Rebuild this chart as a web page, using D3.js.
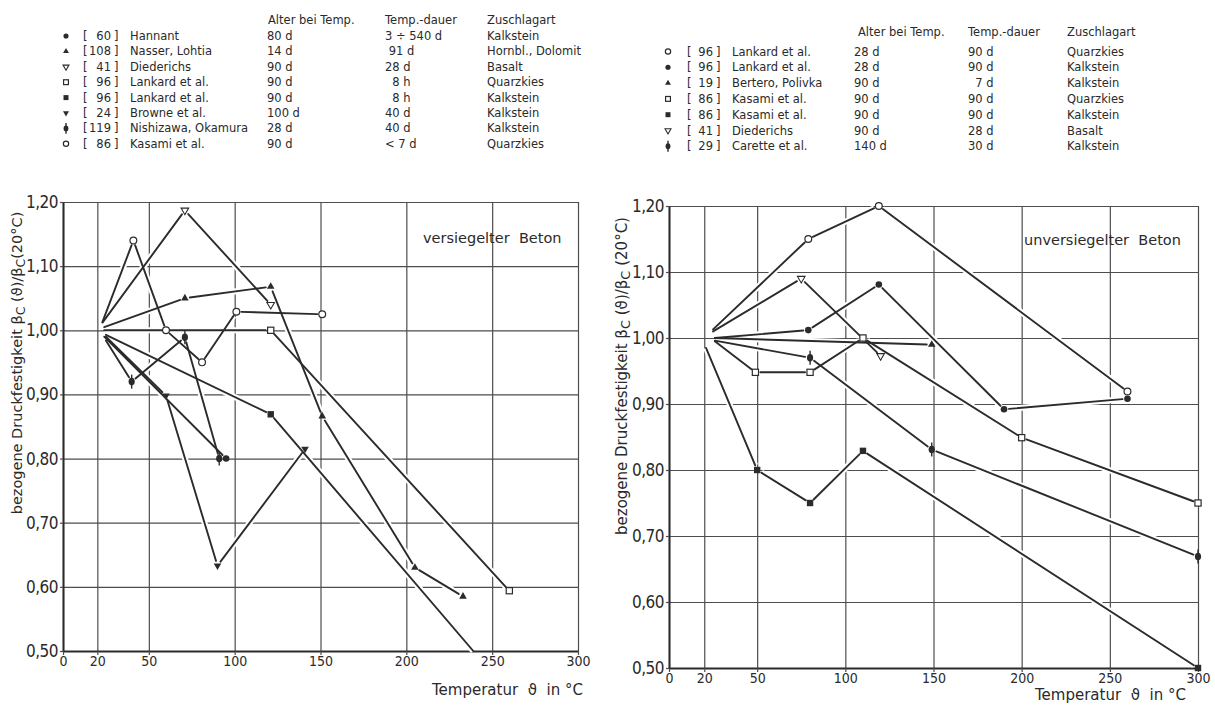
<!DOCTYPE html>
<html>
<head>
<meta charset="utf-8">
<script src="https://cdn.jsdelivr.net/npm/d3@7"></script>
<style>
  body { margin: 0; background: #ffffff; }
  svg { display: block; }
  text { fill: #2a2a2a; }
</style>
</head>
<body>
<svg id="fig" width="1215" height="709"></svg>
<script>
// ---------- legend tables ----------
const legendHeads = ["Alter bei Temp.", "Temp.-dauer", "Zuschlagart"];

const sealedSymbols    = ["dot", "tri", "triDownOpen", "squareOpen", "square", "triDown", "phi", "circleOpen"];
const sealedRefs       = ["60", "108", "41", "96", "96", "24", "119", "86"];
const sealedNames      = ["Hannant", "Nasser, Lohtia", "Diederichs", "Lankard et al.", "Lankard et al.", "Browne et al.", "Nishizawa, Okamura", "Kasami et al."];
const sealedAges       = ["80 d", "14 d", "90 d", "90 d", "90 d", "100 d", "28 d", "90 d"];
const sealedDurations  = ["3 ÷ 540 d", " 91 d", "28 d", "  8 h", "  8 h", "40 d", "40 d", "< 7 d"];
const sealedAggregates = ["Kalkstein", "Hornbl., Dolomit", "Basalt", "Quarzkies", "Kalkstein", "Kalkstein", "Kalkstein", "Quarzkies"];

const openSymbols    = ["circleOpen", "dot", "tri", "squareOpen", "square", "triDownOpen", "phi"];
const openRefs       = ["96", "96", "19", "86", "86", "41", "29"];
const openNames      = ["Lankard et al.", "Lankard et al.", "Bertero, Polivka", "Kasami et al.", "Kasami et al.", "Diederichs", "Carette et al."];
const openAges       = ["28 d", "28 d", "90 d", "90 d", "90 d", "90 d", "140 d"];
const openDurations  = ["90 d", "90 d", "  7 d", "90 d", "90 d", "28 d", "30 d"];
const openAggregates = ["Quarzkies", "Kalkstein", "Kalkstein", "Quarzkies", "Kalkstein", "Basalt", "Kalkstein"];

// ---------- axes ----------
const tempTicks = [0, 20, 50, 100, 150, 200, 250, 300];
const ratioTicks = [0.5, 0.6, 0.7, 0.8, 0.9, 1.0, 1.1, 1.2];

// ---------- measured series: [temperature °C, beta_C(T)/beta_C(20 °C)] ----------
// sealed concrete (versiegelter Beton)
const sealedHannant   = [[24, 0.99], [95, 0.80]];
const sealedNasser    = [[24, 1.005], [71, 1.05], [121, 1.068], [151, 0.866], [205, 0.63], [233, 0.585]];
const sealedDiederichs = [[23, 1.012], [71, 1.187], [121, 1.04]];
const sealedLankardQ  = [[24, 1.0], [121, 1.0], [260, 0.594]];
const sealedLankardK  = [[25, 0.993], [121, 0.869], [239, 0.50]];
const sealedBrowne    = [[25, 0.99], [60, 0.898], [90, 0.633], [141, 0.815]];
const sealedNishizawa = [[25, 0.984], [40, 0.92], [71, 0.989], [91, 0.80]];
const sealedKasami    = [[23, 1.013], [41, 1.14], [60, 1.0], [81, 0.95], [101, 1.029], [151, 1.025]];
// series whose last point is where the line leaves the grid (no symbol there)
const sealedRunsOff = ["sealedLankardK"];

// unsealed concrete (unversiegelter Beton)
const openLankardQ   = [[25, 1.013], [79, 1.15], [119, 1.20], [260, 0.919]];
const openLankardK   = [[26, 1.0], [79, 1.012], [119, 1.081], [190, 0.892], [260, 0.908]];
const openBertero    = [[26, 1.0], [149, 0.99]];
const openKasamiQ    = [[26, 0.995], [49, 0.948], [80, 0.948], [110, 1.0], [200, 0.849], [300, 0.75]];
const openKasamiK    = [[21, 0.985], [50, 0.80], [80, 0.75], [110, 0.829], [300, 0.50]];
const openDiederichs = [[25, 1.01], [75, 1.09], [120, 0.973]];
const openCarette    = [[26, 0.996], [80, 0.97], [149, 0.831], [300, 0.669]];
const openRunsOff = [];

const svg = d3.select("#fig");
const ink = "#2b2b2b";
const gridInk = "#4d4d4d";
const comma = d => d3.format(".2f")(d).replace(".", ",");

// ---------- symbols ----------
function symbol(g, type, cx, cy, k) {
  const s = g.append("g").attr("transform", `translate(${cx},${cy})`);
  const tri = (side, down) => {
    const h = side * 0.866, t = down ? -1 : 1;
    return `M0,${-t * h * 2 / 3}L${side / 2},${t * h / 3}L${-side / 2},${t * h / 3}Z`;
  };
  switch (type) {
    case "dot":
      s.append("circle").attr("r", 3.3 * k).attr("fill", ink); break;
    case "circleOpen":
      s.append("circle").attr("r", 3.4 * k).attr("fill", "#fff").attr("stroke", ink).attr("stroke-width", 1.2); break;
    case "square":
      s.append("rect").attr("x", -3.2 * k).attr("y", -3.2 * k).attr("width", 6.4 * k).attr("height", 6.4 * k).attr("fill", ink); break;
    case "squareOpen":
      s.append("rect").attr("x", -3.1 * k).attr("y", -3.1 * k).attr("width", 6.2 * k).attr("height", 6.2 * k)
        .attr("fill", "#fff").attr("stroke", ink).attr("stroke-width", 1.2); break;
    case "tri":
      s.append("path").attr("d", tri(7.6 * k, false)).attr("fill", ink); break;
    case "triDown":
      s.append("path").attr("d", tri(7.6 * k, true)).attr("fill", ink); break;
    case "triDownOpen":
      s.append("path").attr("d", tri(7.6 * k, true)).attr("fill", "#fff").attr("stroke", ink).attr("stroke-width", 1.1); break;
    case "phi":
      s.append("line").attr("y1", -7 * k).attr("y2", 7 * k).attr("stroke", ink).attr("stroke-width", 1.4);
      s.append("ellipse").attr("rx", 3.1 * k).attr("ry", 3.8 * k).attr("fill", ink); break;
  }
}

// ---------- legend ----------
function legend(cfg) {
  const g = svg.append("g").style("font-family", "'DejaVu Sans', sans-serif").style("font-size", "11.5px");
  legendHeads.forEach((h, i) => {
    g.append("text").attr("x", cfg.headX[i]).attr("y", cfg.headY).text(h);
  });
  cfg.names.forEach((name, i) => {
    const yb = cfg.rowY + i * cfg.step;
    symbol(g, cfg.symbols[i], cfg.symX, yb - 4, 0.78);
    g.append("text").attr("x", cfg.bracketX).attr("y", yb).text("[");
    g.append("text").attr("x", cfg.numEnd).attr("y", yb).attr("text-anchor", "end").text(cfg.refs[i]);
    g.append("text").attr("x", cfg.numEnd + 3).attr("y", yb).text("]");
    g.append("text").attr("x", cfg.nameX).attr("y", yb).text(name);
    g.append("text").attr("x", cfg.colX[0]).attr("y", yb).style("white-space", "pre").text(cfg.ages[i]);
    g.append("text").attr("x", cfg.colX[1]).attr("y", yb).style("white-space", "pre").text(cfg.durations[i]);
    g.append("text").attr("x", cfg.colX[2]).attr("y", yb).text(cfg.aggregates[i]);
  });
}

legend({
  symbols: sealedSymbols, refs: sealedRefs, names: sealedNames, ages: sealedAges,
  durations: sealedDurations, aggregates: sealedAggregates,
  headX: [268, 385, 487], headY: 24, rowY: 40, step: 15.4,
  symX: 66, bracketX: 83, numEnd: 111, nameX: 130, colX: [267, 385, 487]
});
legend({
  symbols: openSymbols, refs: openRefs, names: openNames, ages: openAges,
  durations: openDurations, aggregates: openAggregates,
  headX: [858, 968, 1067], headY: 36, rowY: 55.5, step: 15.8,
  symX: 668, bracketX: 687, numEnd: 713, nameX: 732, colX: [854, 968, 1067]
});

// ---------- chart panels ----------
function panel(cfg) {
  const x = d3.scaleLinear().domain([0, 300]).range([cfg.x0, cfg.x1]);
  const y = d3.scaleLinear().domain([0.5, 1.2]).range([cfg.y0, cfg.y1]);
  const g = svg.append("g");
  const w = cfg.x1 - cfg.x0, h = cfg.y0 - cfg.y1;

  // grid
  g.append("g").attr("transform", `translate(0,${cfg.y0})`)
    .call(d3.axisBottom(x).tickValues(tempTicks).tickSize(-h).tickFormat(""))
    .call(s => { s.select(".domain").remove(); s.selectAll("line").attr("stroke", gridInk).attr("stroke-width", 1.2); });
  g.append("g").attr("transform", `translate(${cfg.x0},0)`)
    .call(d3.axisLeft(y).tickValues(ratioTicks).tickSize(-w).tickFormat(""))
    .call(s => { s.select(".domain").remove(); s.selectAll("line").attr("stroke", gridInk).attr("stroke-width", 1.2); });

  // labelled axes
  g.append("g").attr("transform", `translate(0,${cfg.y0})`)
    .call(d3.axisBottom(x).tickValues(tempTicks).tickSize(4).tickPadding(1).tickSizeOuter(0).tickFormat(d3.format("d")))
    .call(s => {
      s.select(".domain").attr("stroke", ink).attr("stroke-width", 2);
      s.selectAll("line").attr("stroke", gridInk).attr("stroke-width", 1.2);
      s.selectAll("text").attr("fill", ink).style("font-family", "'DejaVu Sans Condensed', 'Liberation Sans Narrow', sans-serif").style("font-size", "14px");
    });
  g.append("g").attr("transform", `translate(${cfg.x0},0)`)
    .call(d3.axisLeft(y).tickValues(ratioTicks).tickSize(3).tickPadding(2).tickSizeOuter(0).tickFormat(comma))
    .call(s => {
      s.select(".domain").attr("stroke", ink).attr("stroke-width", 2);
      s.selectAll("line").attr("stroke", gridInk).attr("stroke-width", 1.2);
      s.selectAll("text").attr("fill", ink).style("font-family", "'Liberation Sans Narrow', 'DejaVu Sans Condensed', sans-serif").style("font-size", "17px").style("letter-spacing", "-0.5px");
    });

  // axis titles
  const yt = g.append("text")
    .attr("transform", `translate(${cfg.ytX},${cfg.ytY}) rotate(-90)`)
    .attr("text-anchor", "middle")
    .style("font-family", "'DejaVu Sans', sans-serif").style("font-size", cfg.ytSize + "px");
  yt.append("tspan").text("bezogene  Druckfestigkeit  β");
  yt.append("tspan").attr("dy", 3).style("font-size", (cfg.ytSize - 2) + "px").text("C");
  yt.append("tspan").attr("dy", -3).text(" (ϑ)/β");
  yt.append("tspan").attr("dy", 3).style("font-size", (cfg.ytSize - 2) + "px").text("C");
  yt.append("tspan").attr("dy", -3).text(cfg.ySuffix);

  g.append("text").attr("x", cfg.xtX).attr("y", cfg.xtY)
    .style("font-family", "'DejaVu Sans', sans-serif").style("font-size", "15px")
    .style("white-space", "pre").text("Temperatur  ϑ  in °C");

  g.append("text").attr("x", cfg.noteX).attr("y", cfg.noteY)
    .style("font-family", "'DejaVu Sans', sans-serif").style("font-size", "14.5px")
    .style("white-space", "pre").text(cfg.note);

  // series: white halo first (interrupts the grid), then the ink lines, then symbols
  const gap = 5;
  const prepared = cfg.series.map(sr => {
    const P = sr.pts.map(([t, v]) => [x(t), y(v)]);
    const marked = P.map((_, i) => i > 0 && !(sr.runsOff && i === P.length - 1));
    const segs = [];
    for (let i = 0; i < P.length - 1; i++) {
      let [ax, ay] = P[i], [bx, by] = P[i + 1];
      const dx = bx - ax, dy = by - ay, L = Math.hypot(dx, dy), ux = dx / L, uy = dy / L;
      if (marked[i]) { ax += ux * gap; ay += uy * gap; }
      if (marked[i + 1]) { bx -= ux * gap; by -= uy * gap; }
      segs.push([[ax, ay], [bx, by]]);
    }
    return { P, marked, segs, sym: sr.sym };
  });
  const line = d3.line();
  prepared.forEach(p => p.segs.forEach(sg => {
    g.append("path").attr("d", line(sg)).attr("stroke", "#fff").attr("stroke-width", 6).attr("fill", "none");
  }));
  prepared.forEach(p => p.segs.forEach(sg => {
    g.append("path").attr("d", line(sg)).attr("stroke", ink).attr("stroke-width", 1.9).attr("fill", "none").attr("stroke-linecap", "round");
  }));
  prepared.forEach(p => p.P.forEach((pt, i) => { if (p.marked[i]) symbol(g, p.sym, pt[0], pt[1], 1); }));
}

const sealedSeries = { sealedHannant, sealedNasser, sealedDiederichs, sealedLankardQ, sealedLankardK, sealedBrowne, sealedNishizawa, sealedKasami };
const openSeries = { openLankardQ, openLankardK, openBertero, openKasamiQ, openKasamiK, openDiederichs, openCarette };

panel({
  x0: 63, x1: 578, y0: 651, y1: 202,
  series: Object.entries(sealedSeries).map(([k, pts], i) => ({ pts, sym: sealedSymbols[i], runsOff: sealedRunsOff.includes(k) })),
  ytX: 22, ytY: 363, ytSize: 14.5, ySuffix: "(20°C)",
  xtX: 432, xtY: 695,
  note: "versiegelter  Beton", noteX: 423, noteY: 243
});
panel({
  x0: 669, x1: 1198, y0: 668, y1: 206,
  series: Object.entries(openSeries).map(([k, pts], i) => ({ pts, sym: openSymbols[i], runsOff: openRunsOff.includes(k) })),
  ytX: 627, ytY: 376, ytSize: 15, ySuffix: " (20°C)",
  xtX: 1035, xtY: 700,
  note: "unversiegelter  Beton", noteX: 1024, noteY: 245
});
</script>
</body>
</html>
